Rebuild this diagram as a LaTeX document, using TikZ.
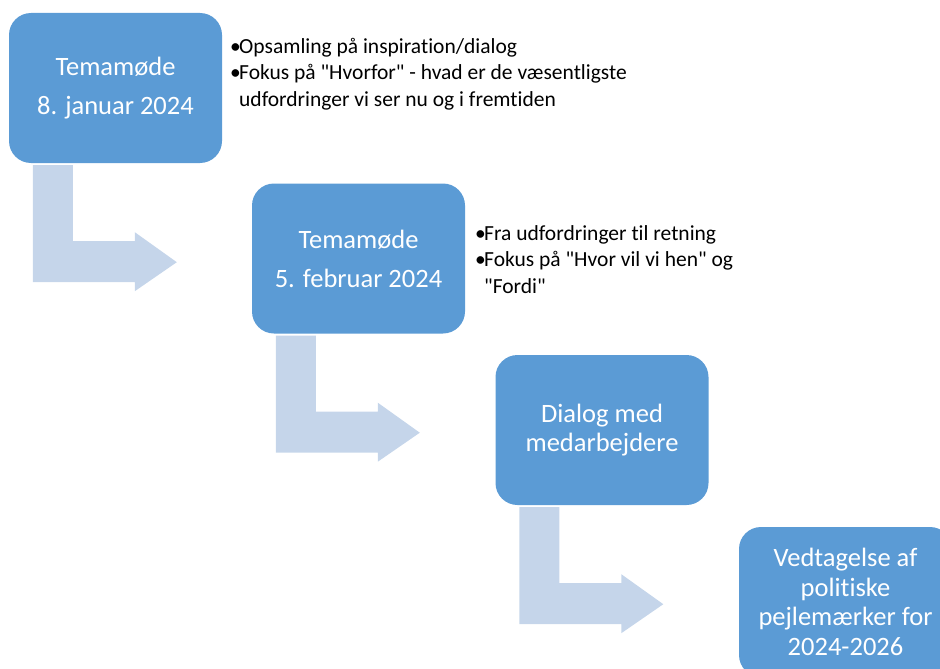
\documentclass[tikz,border=0pt]{standalone}
\usepackage{fontspec}
\setmainfont{Carlito}[Ligatures={NoCommon}]
\definecolor{boxblue}{HTML}{5B9BD5}
\definecolor{arrowblue}{HTML}{C5D5EA}
\tikzset{
  stagebox/.style={rectangle, rounded corners=22pt, fill=boxblue, draw=none,
    minimum width=213pt, minimum height=150pt, text=white, align=center,
    font=\fontsize{26.5}{29.5}\selectfont, inner sep=0pt},
  sidetext/.style={anchor=north west, align=left, inner sep=0pt,
    font=\fontsize{21.5}{26.5}\selectfont, text=black},
  bentarrow/.pic={
    \fill[arrowblue] (24,-2) -- (64,-2) -- (64,-78) -- (126,-78) -- (126,-69)
      -- (168,-99) -- (126,-128) -- (126,-119) -- (24,-119) -- cycle;
  }
}
\newcommand{\blt}{\makebox[9pt][l]{\textbullet}}
\newcommand{\qt}{\textquotedbl}
\begin{document}
\begin{tikzpicture}[x=1pt,y=1pt]
\useasboundingbox (0,0) rectangle (940,-669);
\begin{scope}
\clip (0,0) rectangle (940,-669);
\node[stagebox] (b1) at (115.5,-88) {Temamøde\\[9.5pt]8. januar 2024};
\node[stagebox] (b2) at (358.5,-258.5) {Temamøde\\[9.5pt]5. februar 2024};
\node[stagebox] (b3) at (602,-430) {Dialog med\\medarbejdere};
\node[stagebox] (b4) at (845.5,-602) {Vedtagelse af\\politiske\\pejlemærker for\\2024-2026};
\pic at (b1.south west) {bentarrow};
\pic at (b2.south west) {bentarrow};
\pic at (b3.south west) {bentarrow};
\node[sidetext] (t1) at (230,-38) {\blt Opsamling på inspiration/dialog\\
\blt Fokus på \qt Hvorfor\qt{} - hvad er de væsentligste\\
\hspace*{9pt}udfordringer vi ser nu og i fremtiden};
\node[sidetext] (t2) at (475,-225) {\blt Fra udfordringer til retning\\
\blt Fokus på \qt Hvor vil vi hen\qt{} og\\
\hspace*{9pt}\qt Fordi\qt};
\end{scope}
\end{tikzpicture}
\end{document}
